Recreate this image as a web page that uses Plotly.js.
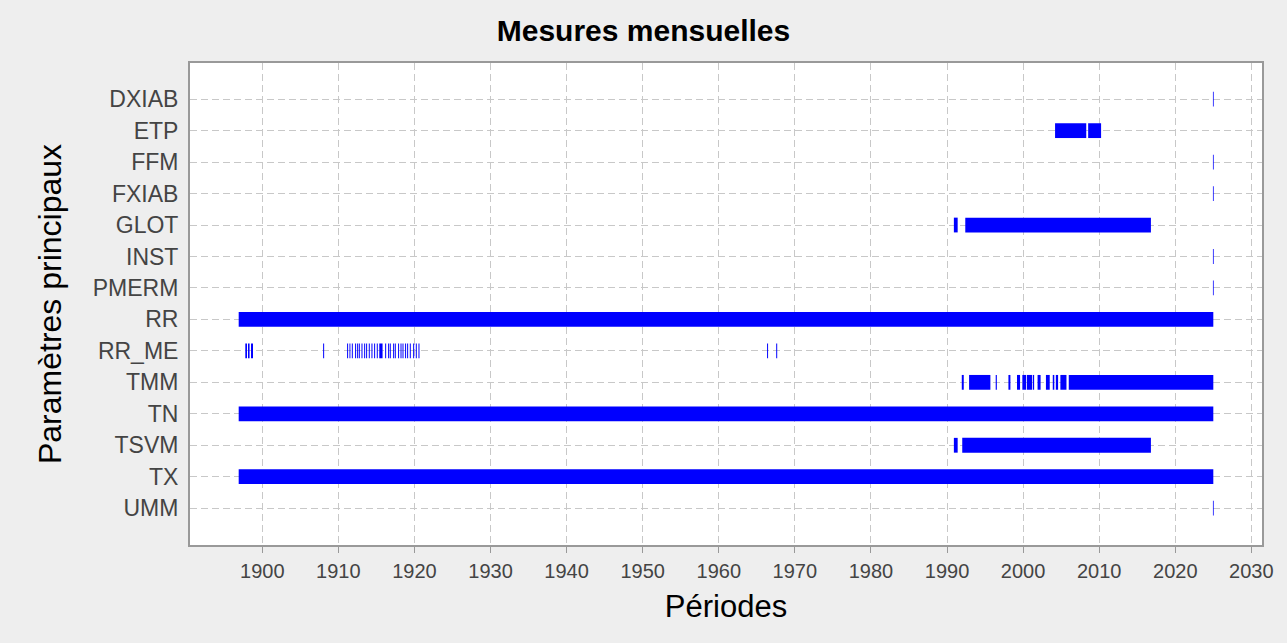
<!DOCTYPE html>
<html>
<head>
<meta charset="utf-8">
<script src="https://cdn.plot.ly/plotly-3.0.1.min.js"></script>
<style>html,body{margin:0;padding:0;background:#eeeeee;}#chart{width:1287px;height:643px;}</style>
</head>
<body>
<div id="chart"></div>
<script>
// Parameter names (top to bottom)
const categories = ['DXIAB','ETP','FFM','FXIAB','GLOT','INST','PMERM','RR','RR_ME','TMM','TN','TSVM','TX','UMM'];

// Measurement periods per parameter: [start year, end year]
const dxiab = [[2024.95, 2025.05]];
const etp   = [[2004.2, 2008.3], [2008.55, 2010.25]];
const ffm   = [[2024.95, 2025.05]];
const fxiab = [[2024.95, 2025.05]];
const glot  = [[1990.9, 1991.4], [1992.4, 2016.8]];
const inst  = [[2024.95, 2025.05]];
const pmerm = [[2024.95, 2025.05]];
const rr    = [[1896.9, 2025.0]];
const rr_me = [[1897.77, 1897.99], [1898.12, 1898.33], [1898.52, 1898.78], [1908.0, 1908.13],
               [1911.15, 1911.28], [1911.46, 1911.58], [1911.77, 1911.9], [1912.2, 1912.33],
               [1912.47, 1912.6], [1912.69, 1912.82], [1913.04, 1913.17], [1913.39, 1913.52],
               [1913.65, 1913.78], [1914.0, 1914.13], [1914.35, 1914.48], [1914.7, 1914.83],
               [1915.05, 1915.18], [1915.38, 1915.81], [1916.15, 1916.28], [1916.54, 1916.67],
               [1916.76, 1916.89], [1917.2, 1917.33], [1917.42, 1917.55], [1917.85, 1917.98],
               [1918.17, 1918.3], [1918.43, 1918.56], [1918.77, 1918.9], [1919.04, 1919.17],
               [1919.39, 1919.52], [1919.83, 1919.96], [1920.18, 1920.31], [1920.53, 1920.66],
               [1966.35, 1966.48], [1967.55, 1967.68]];
const tmm   = [[1991.94, 1992.2], [1992.9, 1995.7], [1996.4, 1996.55], [1998.07, 1998.33],
               [1999.2, 1999.6], [1999.9, 2000.4], [2000.5, 2001.2], [2001.3, 2001.45],
               [2001.9, 2002.3], [2003.0, 2003.5], [2003.9, 2004.1], [2004.3, 2004.6],
               [2004.9, 2005.7], [2006.0, 2025.0]];
const tn    = [[1896.9, 2025.0]];
const tsvm  = [[1990.9, 1991.4], [1992.0, 2016.8]];
const tx    = [[1896.9, 2025.0]];
const umm   = [[2024.95, 2025.05]];

const periods = [dxiab, etp, ffm, fxiab, glot, inst, pmerm, rr, rr_me, tmm, tn, tsvm, tx, umm];

const ys = [], bases = [], lens = [];
categories.forEach((c, i) => {
  periods[i].forEach(([s, e]) => { ys.push(c); bases.push(s); lens.push(e - s); });
});

const trace = {
  type: 'bar', orientation: 'h',
  y: ys, base: bases, x: lens,
  width: 0.47,
  marker: {color: '#0000ff', line: {width: 0}},
  hoverinfo: 'y'
};

const layout = {
  width: 1287, height: 643,
  paper_bgcolor: '#eeeeee', plot_bgcolor: '#ffffff',
  margin: {l: 190, r: 25, t: 63, b: 98},
  showlegend: false,
  font: {family: 'Liberation Sans, Arial, sans-serif', color: '#444444'},
  title: {text: '<b>Mesures mensuelles</b>', font: {size: 30, color: '#000000', family: 'Liberation Sans, Arial, sans-serif'},
          x: 0.5, xref: 'container', xanchor: 'center', y: 0.952, yref: 'container', yanchor: 'middle'},
  xaxis: {
    range: [1890.5, 2031.4], tick0: 1900, dtick: 10,
    showgrid: true, gridcolor: '#c8c8c8', griddash: '7px,4px', gridwidth: 1,
    zeroline: false,
    showline: true, linecolor: '#999999', linewidth: 2, mirror: true,
    ticks: 'outside', ticklen: 6, tickcolor: '#999999', tickwidth: 1,
    tickfont: {size: 20, color: '#444444'},
    ticklabelstandoff: 1,
    title: {text: 'Périodes', font: {size: 31, color: '#000000'}, standoff: 14}
  },
  yaxis: {
    type: 'category', categoryorder: 'array', categoryarray: categories,
    range: [14.17, -1.15],
    showgrid: true, gridcolor: '#c8c8c8', griddash: '7px,4px', gridwidth: 1,
    zeroline: false,
    showline: true, linecolor: '#999999', linewidth: 2, mirror: true,
    ticks: '', tickfont: {size: 23, color: '#444444'},
    ticklabelstandoff: 5,
    title: {text: 'Paramètres principaux', font: {size: 32, color: '#000000'}, standoff: 22}
  }
};

Plotly.newPlot('chart', [trace], layout, {displayModeBar: false, staticPlot: true});
</script>
</body>
</html>
